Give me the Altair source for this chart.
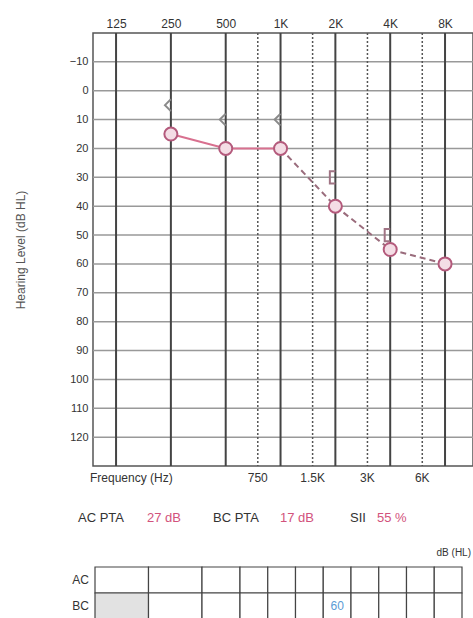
import altair as alt
import pandas as pd

# ---------------- data ----------------
ac_freq = [250, 500, 1000, 2000, 4000, 8000]
ac_db = [15, 20, 20, 40, 55, 60]
bc_freq = [250, 500, 1000]
bc_db = [5, 10, 10]
mbc_freq = [2000, 4000]
mbc_db = [30, 50]
octave_freq = [125, 250, 500, 1000, 2000, 4000, 8000]
octave_labels = ["125", "250", "500", "1K", "2K", "4K", "8K"]
inter_freq = [750, 1500, 3000, 6000]
inter_labels = ["750", "1.5K", "3K", "6K"]
db_ticks = list(range(-10, 121, 10))
summary_labels = ["AC PTA", "BC PTA", "SII"]
summary_values = ["27 dB", "17 dB", "55 %"]
table_cols = ["125", "250", "500", "750", "1K", "1.5K", "2K", "3K", "4K", "6K", "8K"]
table_rows = ["AC", "BC"]
table_entry_row = ["BC"]
table_entry_col = ["2K"]
table_entry_val = ["60"]
shaded_row = ["BC"]
shaded_col = ["125"]

FONT = "Liberation Sans"
PINK = "#d2527c"

# ---------------- frames ----------------
ac_df = pd.DataFrame({"freq": ac_freq, "db": ac_db})
bc_df = pd.DataFrame({"freq": bc_freq, "db": bc_db})
mbc_df = pd.DataFrame({"freq": mbc_freq, "db": mbc_db})
oct_df = pd.DataFrame({"freq": octave_freq, "label": octave_labels})
int_df = pd.DataFrame({"freq": inter_freq, "label": inter_labels})
h_df = pd.DataFrame({"db": db_ticks})

label_map = "{" + ",".join(f"'{f}':'{l}'" for f, l in zip(octave_freq, octave_labels)) + "}"

xs = alt.Scale(type="log", base=2, domain=[93.4, 11393], nice=False)
ys = alt.Scale(domain=[-20, 130], reverse=True, nice=False, zero=False)

YAXIS = alt.Axis(values=db_ticks, title="Hearing Level (dB HL)", tickSize=0,
                 domain=False, grid=False, labelPadding=5, labelFontSize=11,
                 labelColor="#333", labelFont=FONT, titleFont=FONT,
                 labelOverlap=False, labelFlush=False, labelBound=False,
                 titleFontSize=12, titleFontWeight="normal", titleColor="#555",
                 titlePadding=42)
XAXIS = alt.Axis(orient="top", values=octave_freq, labelExpr=label_map + "[datum.value]",
                 tickSize=0, domain=False, grid=False, labelFontSize=12,
                 labelColor="#333", labelFont=FONT, title=None, labelPadding=3,
                 labelOverlap=False, labelFlush=False, labelBound=False)

X = alt.X("freq:Q", scale=xs, axis=XAXIS)
Y = alt.Y("db:Q", scale=ys, axis=YAXIS)

hgrid = alt.Chart(h_df).mark_rule(color="#999999", strokeWidth=1.5).encode(y=Y)

vrules = alt.Chart(oct_df).mark_rule(color="#444", strokeWidth=2).encode(x=X)

irules = alt.Chart(int_df).mark_rule(color="#555", strokeWidth=1.5, strokeDash=[2, 2]).encode(x=X)

bottom_labels = alt.Chart(int_df).mark_text(font=FONT, fontSize=12, color="#333", baseline="middle").encode(
    x=X, y=alt.value(445), text="label:N"
)
freq_title = alt.Chart(int_df.head(1)).mark_text(
    font=FONT, fontSize=12, color="#333", align="left", baseline="middle", text="Frequency (Hz)"
).encode(x=alt.value(-3), y=alt.value(445))

line_solid = alt.Chart(ac_df).transform_filter("datum.freq <= 1000").mark_line(
    color="#d8708f", strokeWidth=2).encode(x=X, y=Y)
line_dash = alt.Chart(ac_df).transform_filter("datum.freq >= 1000").mark_line(
    color="#9a6c7c", strokeWidth=2, strokeDash=[6, 4]).encode(x=X, y=Y)

ac_pts = alt.Chart(ac_df).mark_point(shape="circle", size=170, filled=True, fill="#f4dde5",
                                     stroke="#b45a7c", strokeWidth=2, opacity=1).encode(x=X, y=Y)

bc_pts = alt.Chart(bc_df).mark_point(shape="M 0 -1 L -1 0 L 0 1", size=140, filled=False,
                                     stroke="#8a8a8a", strokeWidth=2, opacity=1).encode(x=X, y=Y)

mbc_pts = alt.Chart(mbc_df).mark_point(shape="M 0 -1 L -0.9 -1 L -0.9 1 L 0 1", size=150, filled=False,
                                       stroke="#a07484", strokeWidth=2, opacity=1).encode(x=X, y=Y)

# summary text row
sum_x_lab = [-15, 120, 257]
sum_x_val = [54, 187, 284]
summary = []
for i in range(len(summary_labels)):
    summary.append(alt.Chart(int_df.head(1)).mark_text(
        font=FONT, fontSize=13, color="#333", align="left", baseline="middle",
        text=summary_labels[i]).encode(x=alt.value(sum_x_lab[i]), y=alt.value(485)))
    summary.append(alt.Chart(int_df.head(1)).mark_text(
        font=FONT, fontSize=13, color=PINK, align="left", baseline="middle",
        text=summary_values[i]).encode(x=alt.value(sum_x_val[i]), y=alt.value(485)))
db_unit = alt.Chart(int_df.head(1)).mark_text(
    font=FONT, fontSize=10, color="#333", align="right", baseline="middle",
    text="dB (HL)").encode(x=alt.value(378), y=alt.value(520))

main = alt.layer(hgrid, vrules, irules, bottom_labels, freq_title, line_solid, line_dash,
                 bc_pts, mbc_pts, ac_pts, *summary, db_unit)

# ---------------- table ----------------
cells = []
for r in table_rows:
    for i, c in enumerate(table_cols):
        shaded = any(r == sr and c == sc for sr, sc in zip(shaded_row, shaded_col))
        cells.append({"row": r, "col": c, "i0": i, "i1": i + 1, "shaded": shaded})
cell_df = pd.DataFrame(cells)
ent = []
for r, c, v in zip(table_entry_row, table_entry_col, table_entry_val):
    i = table_cols.index(c)
    ent.append({"row": r, "col": c, "mid": i + 0.5, "val": v})
ent_df = pd.DataFrame(ent)
row_df = pd.DataFrame({"row": table_rows})

tx = alt.Scale(domain=[0, 2, 3, 11], range=[2, 109, 147, 369], nice=False, zero=False)
ty = alt.Scale(domain=table_rows, range=[534, 586], paddingInner=0, paddingOuter=0)

cell_rect = alt.Chart(cell_df).mark_rect(stroke="#444", strokeWidth=1.2).encode(
    x=alt.X("i0:Q", scale=tx, axis=None), x2="i1:Q",
    y=alt.Y("row:N", scale=ty, axis=None),
    fill=alt.condition("datum.shaded", alt.value("#e2e2e2"), alt.value("white"))
)
ent_text = alt.Chart(ent_df).mark_text(font=FONT, fontSize=12, color="#5b9bd5").encode(
    x=alt.X("mid:Q", scale=tx, axis=None), y=alt.Y("row:N", scale=ty, axis=None), text="val:N")
row_text = alt.Chart(row_df).mark_text(font=FONT, fontSize=12, color="#333", align="right").encode(
    x=alt.value(-4), y=alt.Y("row:N", scale=ty, axis=None), text="row:N")

table = alt.layer(cell_rect, ent_text, row_text)

chart = alt.layer(main, table).resolve_scale(x="independent", y="independent").properties(
    width=380, height=433, autosize="none",
    padding={"left": 93, "top": 33, "right": 0, "bottom": 152},
    background="white",
).configure_view(stroke="#555", strokeWidth=1.5)

chart.save("out.html", embed_options={"renderer": "svg", "actions": False})
